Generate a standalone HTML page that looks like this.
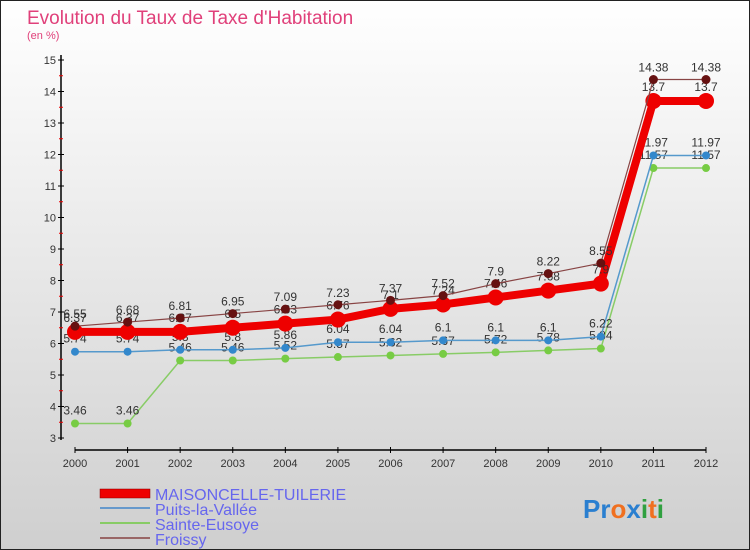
<!DOCTYPE html>
<html><head><meta charset="utf-8"><style>
body{margin:0;padding:0}
svg{display:block;font-family:"Liberation Sans",sans-serif}
</style></head><body>
<svg id="c" width="750" height="550" xmlns="http://www.w3.org/2000/svg">
<defs><linearGradient id="bg" x1="0" y1="0" x2="0" y2="1"><stop offset="0" stop-color="#ffffff"/><stop offset="1" stop-color="#cfcfcf"/></linearGradient></defs>
<rect x="0.5" y="0.5" width="749" height="549" fill="url(#bg)" stroke="#222"/>
<text x="27" y="24" font-size="19" fill="#e0407a">Evolution du Taux de Taxe d'Habitation</text>
<text x="27" y="39" font-size="11" fill="#e0407a">(en %)</text>
<g id="axes"></g>
<g id="series"></g>
<g>
<rect x="100" y="489" width="50" height="9" fill="#ee0000" stroke="#880000" stroke-width="0.5"/>
<line x1="100" y1="508" x2="150" y2="508" stroke="#6699cc" stroke-width="2"/>
<line x1="100" y1="523" x2="150" y2="523" stroke="#88cc66" stroke-width="2"/>
<line x1="100" y1="538" x2="150" y2="538" stroke="#996666" stroke-width="2"/>
<text x="155" y="500" font-size="16" fill="#6666ee">MAISONCELLE-TUILERIE</text>
<text x="155" y="515" font-size="16" fill="#6666ee">Puits-la-Vallée</text>
<text x="155" y="530" font-size="16" fill="#6666ee">Sainte-Eusoye</text>
<text x="155" y="545" font-size="16" fill="#6666ee">Froissy</text>
</g>
<g font-size="26" font-weight="bold">
<text x="583" y="518"><tspan fill="#2a7fd0">Pr</tspan><tspan fill="#f07020">o</tspan><tspan fill="#2a7fd0">x</tspan><tspan fill="#30a040">i</tspan><tspan fill="#f07020">t</tspan><tspan fill="#30a040">i</tspan></text>
</g>
</svg>
<script>
const years=[2000,2001,2002,2003,2004,2005,2006,2007,2008,2009,2010,2011,2012];
const maisoncelle=[6.37,6.37,6.37,6.5,6.63,6.76,7.1,7.24,7.46,7.68,7.9,13.7,13.7];
const puits=[5.74,5.74,5.8,5.8,5.86,6.04,6.04,6.1,6.1,6.1,6.22,11.97,11.97];
const sainte=[3.46,3.46,5.46,5.46,5.52,5.57,5.62,5.67,5.72,5.78,5.84,11.57,11.57];
const froissy=[6.55,6.68,6.81,6.95,7.09,7.23,7.37,7.52,7.9,8.22,8.55,14.38,14.38];
const yTicks=[3,4,5,6,7,8,9,10,11,12,13,14,15];
const NS="http://www.w3.org/2000/svg";
const X=i=>75+i*(706-75)/12;
const Y=v=>438-(v-3)*31.5;
function mk(t,a,p){const e=document.createElementNS(NS,t);for(const k in a)e.setAttribute(k,a[k]);p.appendChild(e);return e;}
const ax=document.getElementById('axes');
const yl=mk('line',{x1:61,y1:55,x2:61,y2:440,stroke:'#000','stroke-width':1.5},ax);


const xl=mk('line',{x1:75,y1:450,x2:706,y2:450,stroke:'#000','stroke-width':1.5},ax);


yTicks.forEach(v=>{
 mk('line',{x1:58,y1:Y(v),x2:64,y2:Y(v),stroke:'#000'},ax);
 if(v<15)mk('line',{x1:59,y1:Y(v+0.5),x2:63,y2:Y(v+0.5),stroke:'#e00'},ax);
 const t=mk('text',{x:56,y:Y(v)+4,'font-size':11,fill:'#333','text-anchor':'end'},ax);t.textContent=v;
 
 
});
years.forEach((y,i)=>{
 mk('line',{x1:X(i),y1:447,x2:X(i),y2:453,stroke:'#000'},ax);
 const t=mk('text',{x:X(i),y:467,'font-size':11,fill:'#333','text-anchor':'middle'},ax);t.textContent=y;
 
 
});
const sg=document.getElementById('series');
function draw(vals,col,dot,w,r,name,lblDy){
 const g=mk('g',{},sg);
 
 
 mk('polyline',{points:vals.map((v,i)=>X(i)+','+Y(v)).join(' '),fill:'none',stroke:col,'stroke-width':w,'stroke-linejoin':'round'},g);
 vals.forEach((v,i)=>{
  const c=mk('circle',{cx:X(i),cy:Y(v),r:r,fill:dot},g);
  
  
  const t=mk('text',{x:X(i),y:Y(v)+lblDy,'font-size':12,fill:'#333','text-anchor':'middle'},g);t.textContent=v;
  
  
 });
}
draw(sainte,'#88cc66','#77cc44',1.5,4,'sainte-eusoye',-9);
draw(puits,'#5599cc','#3388cc',1.5,4,'puits-la-vallee',-9);
draw(maisoncelle,'#ee0000','#ee0000',8,8,'maisoncelle-tuilerie',-10);
draw(froissy,'#884444','#661111',1.2,4.5,'froissy',-8);
</script>
</body></html>
